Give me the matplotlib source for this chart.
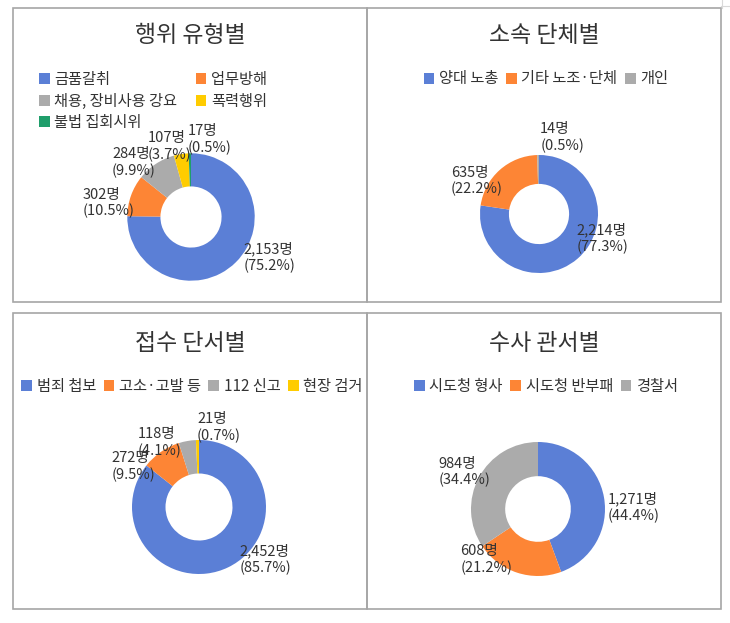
import matplotlib
matplotlib.use("Agg")
import matplotlib.pyplot as plt
from matplotlib.patches import Rectangle, Patch
from matplotlib.lines import Line2D

plt.rcParams['font.family'] = ['Noto Sans CJK KR', 'DejaVu Sans']

W, H = 730, 623
DPI = 100

# ---------------- data ----------------
titles = ["행위 유형별", "소속 단체별", "접수 단서별", "수사 관서별"]

cats1 = ["금품갈취", "업무방해", "채용, 장비사용 강요", "폭력행위", "불법 집회시위"]
vals1 = [2153, 302, 284, 107, 17]
pct1 = ["75.2%", "10.5%", "9.9%", "3.7%", "0.5%"]

cats2 = ["양대 노총", "기타 노조·단체", "개인"]
vals2 = [2214, 635, 14]
pct2 = ["77.3%", "22.2%", "0.5%"]

cats3 = ["범죄 첩보", "고소·고발 등", "112 신고", "현장 검거"]
vals3 = [2452, 272, 118, 21]
pct3 = ["85.7%", "9.5%", "4.1%", "0.7%"]

cats4 = ["시도청 형사", "시도청 반부패", "경찰서"]
vals4 = [1271, 608, 984]
pct4 = ["44.4%", "21.2%", "34.4%"]

# ---------------- style / layout ----------------
BLUE, ORANGE, GRAY, YELLOW, GREEN = "#5B7FD6", "#FD8535", "#ABABAB", "#FFCC00", "#1F9E6B"
colors1 = [BLUE, ORANGE, GRAY, YELLOW, GREEN]
colors2 = [BLUE, ORANGE, GRAY]
colors3 = [BLUE, ORANGE, GRAY, YELLOW]
colors4 = [BLUE, ORANGE, GRAY]
TXT = "#333333"

# panel rects in pixels (left, top, right, bottom)
panels = [(13, 8, 367, 302), (367, 8, 721, 302), (13, 313, 367, 609), (367, 313, 721, 609)]
# donut centre (px) and outer radius (px)
centres = [(191, 217, 63.7), (539, 214, 59), (199, 507, 67), (538, 509, 67)]
hole = [0.48, 0.51, 0.5, 0.49]
# label anchor (left x, centre y) in units of radius
lab1 = [(0.82, -0.63), (-1.70, 0.22), (-1.24, 0.85), (-0.68, 1.11), (-0.05, 1.21)]
lab2 = [(0.63, -0.42), (-1.49, 0.56), (0.02, 1.30)]
lab3 = [(0.60, -0.78), (-1.30, 0.60), (-0.91, 0.96), (-0.03, 1.19)]
lab4 = [(1.04, 0.03), (-1.16, -0.76), (-1.49, 0.55)]

fig = plt.figure(figsize=(W / DPI, H / DPI), dpi=DPI)
fig.patch.set_facecolor("white")


def fx(px):
    return px / W


def fy(py):
    return 1 - py / H


# panel borders
for (l, t, r, b) in panels:
    fig.add_artist(Rectangle((fx(l), fy(b)), fx(r) - fx(l), fy(t) - fy(b),
                             transform=fig.transFigure, fill=False,
                             edgecolor="#A6A6A6", linewidth=1.2))
# faint outer table lines near top-right
fig.add_artist(Line2D([fx(721), fx(730)], [fy(6), fy(6)], transform=fig.transFigure,
                      color="#D9D9D9", linewidth=0.8))
fig.add_artist(Line2D([fx(722), fx(722)], [fy(0), fy(8)], transform=fig.transFigure,
                      color="#D9D9D9", linewidth=0.8))

datasets = [(cats1, vals1, pct1, colors1, lab1),
            (cats2, vals2, pct2, colors2, lab2),
            (cats3, vals3, pct3, colors3, lab3),
            (cats4, vals4, pct4, colors4, lab4)]

title_y = [36, 36, 343, 343]

for i, (cats, vals, pcts, cols, labs) in enumerate(datasets):
    l, t, r, b = panels[i]
    cx, cy, R = centres[i]
    ax = fig.add_axes([fx(l), fy(b), fx(r) - fx(l), fy(t) - fy(b)])
    wedges, _ = ax.pie(vals, colors=cols, startangle=90, counterclock=False,
                       radius=1.0, wedgeprops=dict(width=1 - hole[i], linewidth=0))
    ax.set_aspect('auto')
    ax.set_xlim((l - cx) / R, (r - cx) / R)
    ax.set_ylim((cy - b) / R, (cy - t) / R)
    ax.axis('off')

    for v, p, (lx, ly) in zip(vals, pcts, labs):
        ax.text(lx, ly, f"{v:,}명\n({p})", ha='left', va='center',
                multialignment='left', fontsize=10.5, color=TXT, linespacing=1.2)

    fig.text(fx((l + r) / 2), fy(title_y[i]), titles[i], ha='center', va='center',
             fontsize=16.5, color=TXT)

    handles = [Patch(facecolor=c, edgecolor='none') for c in cols]
    if i == 0:
        order = [0, 2, 4, 1, 3]
        leg = fig.legend([handles[k] for k in order], [cats[k] for k in order],
                         loc='upper left', bbox_to_anchor=(fx(39), fy(71)),
                         ncol=2, frameon=False, fontsize=11,
                         handlelength=0.7, handleheight=0.7, handletextpad=0.3,
                         labelspacing=0.3, columnspacing=1.2, borderpad=0,
                         borderaxespad=0, labelcolor=TXT)
    else:
        ly = 79 if i == 1 else 386
        leg = fig.legend(handles, cats, loc='center',
                         bbox_to_anchor=(fx((l + r) / 2 + 2), fy(ly)),
                         ncol=len(cats), frameon=False, fontsize=11,
                         handlelength=0.7, handleheight=0.7, handletextpad=0.3,
                         columnspacing=0.5, borderpad=0, borderaxespad=0,
                         labelcolor=TXT)

fig.savefig("out.png", dpi=DPI, facecolor="white")
